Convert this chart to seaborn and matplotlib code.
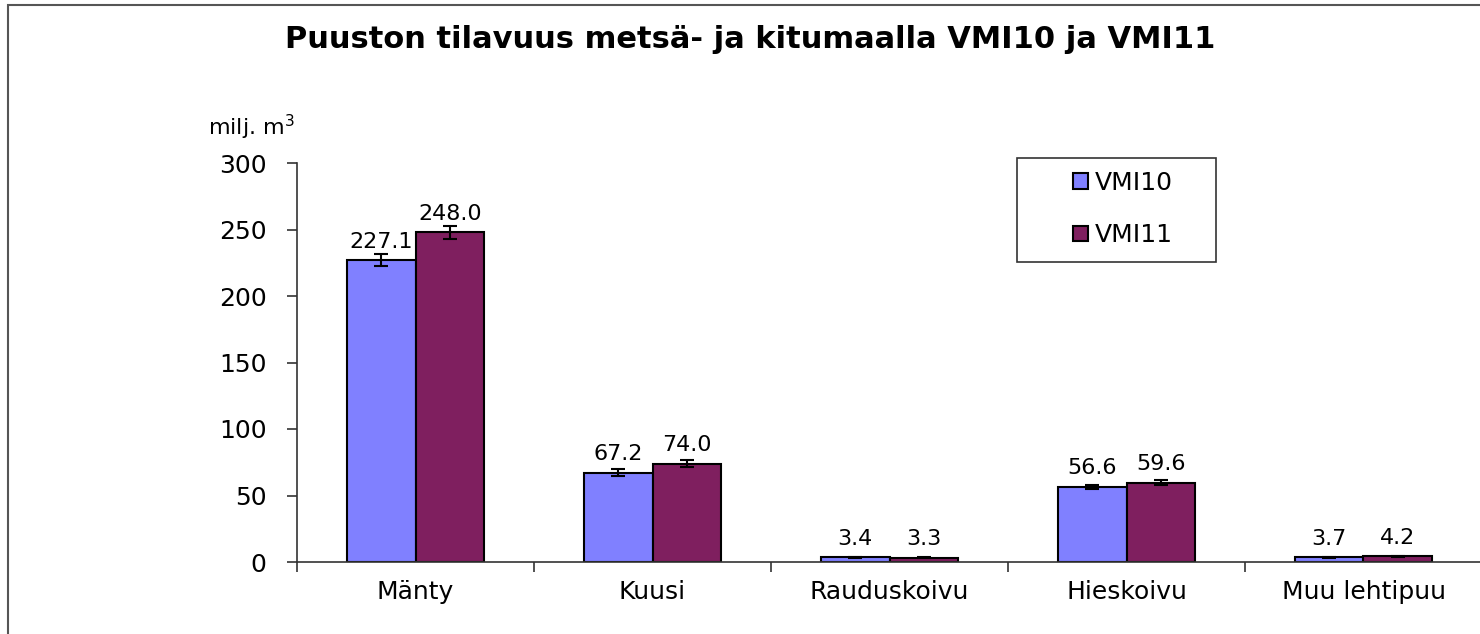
"""
Puuston tilavuus metsä- ja kitumaalla, VMI10 vs VMI11 (grouped bars with error bars)
"""

import numpy as np
import pandas as pd
import matplotlib
matplotlib.use('Agg')
import matplotlib.pyplot as plt
from matplotlib.patches import Rectangle
import seaborn as sns

# Data
species = ['Mänty', 'Kuusi', 'Rauduskoivu', 'Hieskoivu', 'Muu lehtipuu']
vmi10 = [227.1, 67.2, 3.4, 56.6, 3.7]
vmi11 = [248.0, 74.0, 3.3, 59.6, 4.2]
err10 = [4.5, 2.5, 0.4, 1.5, 0.4]
err11 = [5.0, 2.5, 0.4, 1.8, 0.4]
series = ['VMI10', 'VMI11']
colors = ['#8080FF', '#7F1F5F']
yticks = [0, 50, 100, 150, 200, 250, 300]

df = pd.DataFrame({
    'laji': species * 2,
    'inventointi': [series[0]] * len(species) + [series[1]] * len(species),
    'tilavuus': vmi10 + vmi11,
    'virhe': err10 + err11,
})

sns.set_style('white')
plt.rcParams['font.family'] = ['DejaVu Sans']
plt.rcParams['text.color'] = 'black'
plt.rcParams['xtick.color'] = 'black'
plt.rcParams['ytick.color'] = 'black'

W, H = 1480, 634
fig = plt.figure(figsize=(W / 100, H / 100), dpi=100)
ax = fig.add_axes([297 / W, (H - 562) / H, 1185 / W, 399 / H])

sns.barplot(data=df, x='laji', y='tilavuus', hue='inventointi', order=species,
            hue_order=series, palette=colors, width=0.58, errorbar=None,
            edgecolor='black', linewidth=1.5, saturation=1, ax=ax)

# error bars and value labels on top of each bar
for container, name in zip(ax.containers, series):
    sub = df[df['inventointi'] == name].set_index('laji').loc[species]
    for bar, val, e in zip(container, sub['tilavuus'], sub['virhe']):
        xc = bar.get_x() + bar.get_width() / 2
        ax.errorbar(xc, val, yerr=e, color='black', capsize=5, elinewidth=1.5,
                    capthick=1.5, fmt='none')
        ax.annotate(f'{val:.1f}', (xc, val), xytext=(0, 6), textcoords='offset points',
                    ha='center', va='bottom', fontsize=16, color='black')

ax.set_xlim(-0.5, len(species) - 0.5)
ax.set_ylim(0, 300)
ax.set_yticks(yticks)
ax.set_xlabel('')
ax.set_ylabel('')
ax.tick_params(axis='y', labelsize=18, length=7, width=1.2, pad=15, direction='out',
               left=True, color='#333333')
ax.tick_params(axis='x', labelsize=18, length=0, pad=13)
ax.set_xticks(np.arange(-0.5, len(species), 1.0), minor=True)
ax.tick_params(axis='x', which='minor', length=7, width=1.2, direction='out',
               bottom=True, color='#333333')

for side in ['top', 'right']:
    ax.spines[side].set_visible(False)
for side in ['left', 'bottom']:
    ax.spines[side].set_color('#333333')
    ax.spines[side].set_linewidth(1.2)

# legend: box drawn separately so its size matches, entries centred inside
fig.add_artist(Rectangle((1017 / W, 1 - 262 / H), 199 / W, 104 / H,
                         transform=fig.transFigure, fill=False,
                         edgecolor='#333333', linewidth=1.2))
ax.legend(loc='center', bbox_to_anchor=(1123 / W, 1 - 209 / H),
          bbox_transform=fig.transFigure, frameon=False,
          fontsize=18, handlelength=0.6, handleheight=0.6, handletextpad=0.25,
          labelspacing=1.15, borderpad=0, borderaxespad=0)

fig.text(0.507, 1 - 40 / H, 'Puuston tilavuus metsä- ja kitumaalla VMI10 ja VMI11',
         ha='center', va='center', fontsize=22, fontweight='bold')
fig.text(208 / W, 1 - 127 / H, 'milj. m$^3$', ha='left', va='center', fontsize=16)

# outer chart border
fig.add_artist(Rectangle((8 / W, -0.05), 1.1, 1.05 - 5 / H, transform=fig.transFigure,
                         fill=False, edgecolor='#555555', linewidth=1.5))

fig.savefig('out.png', dpi=100)
